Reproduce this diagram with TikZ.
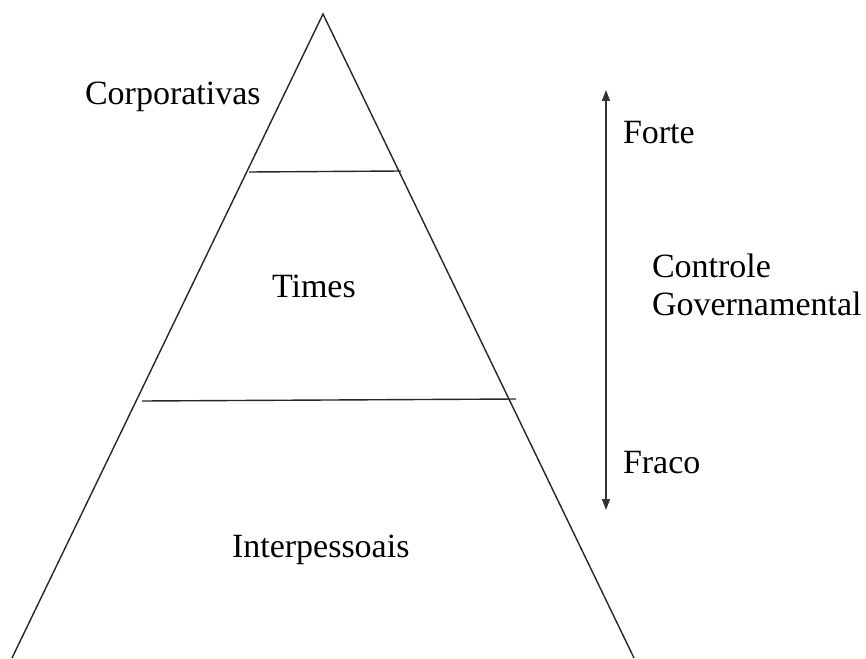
\documentclass[tikz,border=0pt]{standalone}
\usepackage{fontspec}
\setmainfont{Liberation Serif}
\usetikzlibrary{arrows.meta}
\begin{document}
\begin{tikzpicture}[x=1pt,y=-1pt,
  lbl/.style={anchor=base west,inner sep=0pt,outer sep=0pt,font=\fontsize{34}{38}\selectfont},
  edge/.style={line width=1.4pt,black!85}]
\useasboundingbox (0,0) rectangle (866,658);
\coordinate (apex) at (323,14);
\coordinate (bl) at (12,658);
\coordinate (br) at (634,658);
\coordinate (l1a) at (249,172);
\coordinate (l1b) at (401,171);
\coordinate (l2a) at (142,401);
\coordinate (l2b) at (516,399);
\coordinate (atop) at (606,90);
\coordinate (abot) at (606,510);
\draw[edge] (bl) -- (apex) -- (br);
\draw[edge] (l1a) -- (l1b);
\draw[edge] (l2a) -- (l2b);
\draw[line width=1.4pt,black!80,{Triangle[length=11pt,width=8pt]}-{Triangle[length=11pt,width=8pt]}] (atop) -- (abot);
\node[lbl] (corp) at (85,105) {Corporativas};
\node[lbl] (times) at (272,297) {Times};
\node[lbl] (inter) at (232,557) {Interpessoais};
\node[lbl] (forte) at (623,143) {Forte};
\node[lbl] (ctrl) at (652,277) {Controle};
\node[lbl] (gov) at (652,315) {Governamental};
\node[lbl] (fraco) at (623,473) {Fraco};
\end{tikzpicture}
\end{document}
